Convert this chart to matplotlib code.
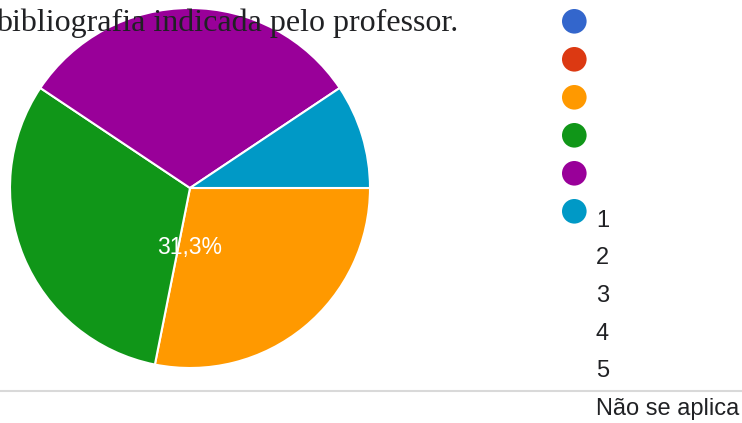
import matplotlib.pyplot as plt
import numpy as np

# answers to the question (32 responses)
labels = ["1", "2", "3", "4", "5", "Não se aplica"]
counts = [0, 0, 9, 10, 10, 3]
colors = ["#3366cc", "#dc3912", "#ff9900", "#109618", "#990099", "#0099c6"]
title = "bibliografia indicada pelo professor."

W, H = 742, 423
fig = plt.figure(figsize=(W / 100, H / 100), dpi=100)

# pie axes placed in pixel units (center ~ (190,188), radius 180)
ax = fig.add_axes([10 / W, (H - 368) / H, 360 / W, 360 / H])
ax.pie(counts, colors=colors, startangle=0, counterclock=False,
       wedgeprops=dict(edgecolor="white", linewidth=1.5), radius=1.0)
ax.set_xlim(-1, 1); ax.set_ylim(-1, 1); ax.set_aspect("equal"); ax.axis("off")

# only one percentage label is visible in the original
pct = np.floor(counts[3] / sum(counts) * 1000 + 0.5) / 10
ax.text(0.0, -0.333, f"{pct:.1f}%".replace(".", ","), color="white", ha="center", va="center",
        fontsize=16.5, family="Liberation Sans")

# overlay in pixel coordinates for title, legend and separator
ov = fig.add_axes([0, 0, 1, 1], zorder=5)
ov.set_xlim(0, W); ov.set_ylim(H, 0); ov.axis("off")
ov.patch.set_alpha(0)

ov.text(458, 31, title, ha="right", va="baseline", fontsize=23,
        family="Liberation Serif", color="#202124")

for i, c in enumerate(colors):
    ov.add_patch(plt.Circle((574.3, 21.3 + 38 * i), 12.3, color=c, lw=0))
for i, lab in enumerate(labels):
    ov.text(596, 221 + 37.5 * i, lab, ha="left", va="center", fontsize=17,
            family="Liberation Sans", color="#202124")

ov.plot([0, W], [391, 391], color="#d9d9d9", lw=1.5)

fig.savefig("out.png", dpi=100)
